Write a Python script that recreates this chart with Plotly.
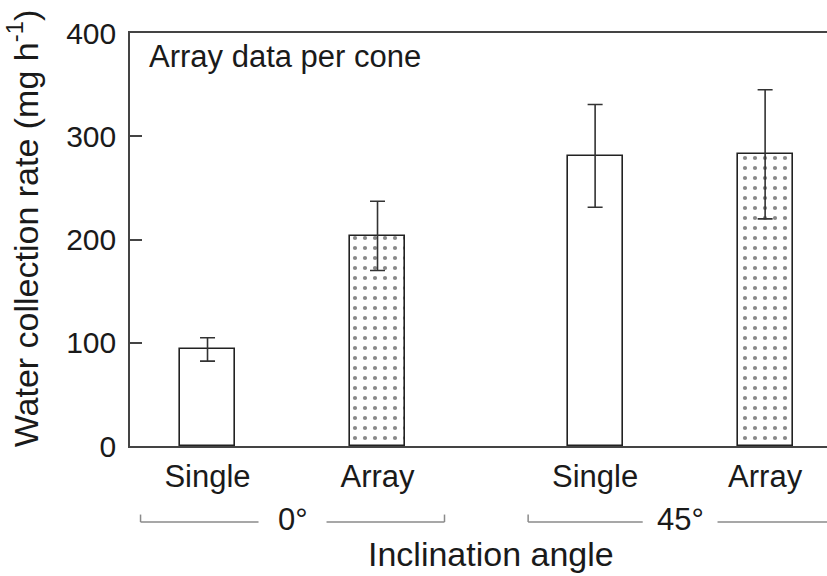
import plotly.graph_objects as go

# ---- data ----
groups = ["0°", "45°"]
conditions = ["Single", "Array"]
values = [93.5, 203.5, 281, 282.5]      # Single0, Array0, Single45, Array45
errors = [11.3, 33.5, 49.8, 62.5]
y_ticks = [0, 100, 200, 300, 400]
y_title = "Water collection rate (mg h<sup>-1</sup>)"
x_title = "Inclination angle"
note = "Array data per cone"

# ---- layout helpers ----
group_step = 2.28
xs, labels, is_array = [], [], []
for gi, g in enumerate(groups):
    for ci, c in enumerate(conditions):
        xs.append(gi * group_step + (ci - 0.5))
        labels.append(c)
        is_array.append(c == "Array")

FONT = "Liberation Sans, Arial, Helvetica, sans-serif"
TXT = "#1a1a1a"
LINE = "#333333"

fig = go.Figure()
for kind in [False, True]:
    idx = [i for i in range(len(xs)) if is_array[i] == kind]
    marker = dict(color="white", line=dict(color="#222222", width=1.6))
    if kind:
        marker["pattern"] = dict(shape=".", fgcolor="#111111", bgcolor="white",
                                 size=10, solidity=0.14)
    fig.add_trace(go.Bar(
        x=[xs[i] for i in idx],
        y=[values[i] for i in idx],
        width=0.324,
        marker=marker,
        error_y=dict(type="data", array=[errors[i] for i in idx],
                     color=LINE, thickness=1.6, width=7.5),
        showlegend=False,
    ))

shapes = []
y_line, y_tick = -0.184, -0.166
half = 0.894
gaps = [0.2, 0.22]
for gi, g in enumerate(groups):
    c = gi * group_step
    gp = gaps[gi]
    seg = dict(type="line", xref="x", yref="paper",
               line=dict(color="#8a8a8a", width=1.5))
    shapes.append({**seg, "x0": c - half, "x1": c - gp, "y0": y_line, "y1": y_line})
    shapes.append({**seg, "x0": c + gp, "x1": c + half, "y0": y_line, "y1": y_line})
    shapes.append({**seg, "x0": c - half, "x1": c - half, "y0": y_line, "y1": y_tick})
    shapes.append({**seg, "x0": c + half, "x1": c + half, "y0": y_line, "y1": y_tick})

annotations = []
for gi, g in enumerate(groups):
    annotations.append(dict(text=g, x=gi * group_step, xref="x", y=y_line + 0.005,
                            yref="paper", showarrow=False, xanchor="center",
                            yanchor="middle", font=dict(size=31, color=TXT, family=FONT)))
annotations.append(dict(text=x_title, x=0.518, xref="paper", y=-0.262, yref="paper",
                        showarrow=False, xanchor="center", yanchor="middle",
                        font=dict(size=34, color=TXT, family=FONT)))
annotations.append(dict(text=note, x=0.024, xref="paper", y=0.944, yref="paper",
                        showarrow=False, xanchor="left", yanchor="middle",
                        font=dict(size=31, color=TXT, family=FONT)))
annotations.append(dict(text=y_title, x=-0.153, xref="paper", y=0.528, yref="paper",
                        textangle=-90, showarrow=False, xanchor="center",
                        yanchor="middle", font=dict(size=34, color=TXT, family=FONT)))

fig.update_layout(
    width=827, height=576,
    margin=dict(l=130, r=0, t=33, b=130),
    paper_bgcolor="white", plot_bgcolor="white",
    font=dict(family=FONT, color=TXT),
    shapes=shapes, annotations=annotations,
    bargap=0,
)
fig.update_xaxes(
    range=[-0.956, 3.144],
    tickvals=xs, ticktext=labels,
    tickfont=dict(size=31, color=TXT, family=FONT),
    ticks="", showgrid=False, zeroline=False,
    showline=True, mirror=True, linecolor="#444444", linewidth=1.6,
    ticklabelstandoff=2,
)
fig.update_yaxes(
    range=[0, 400],
    tickvals=y_ticks,
    tickfont=dict(size=30, color=TXT, family=FONT),
    ticks="inside", ticklen=12, tickwidth=1.6, tickcolor="#444444",
    showgrid=False, zeroline=False,
    showline=True, linecolor="#444444", linewidth=1.6,
    ticklabelstandoff=6,
)

fig.write_html("out.html")
